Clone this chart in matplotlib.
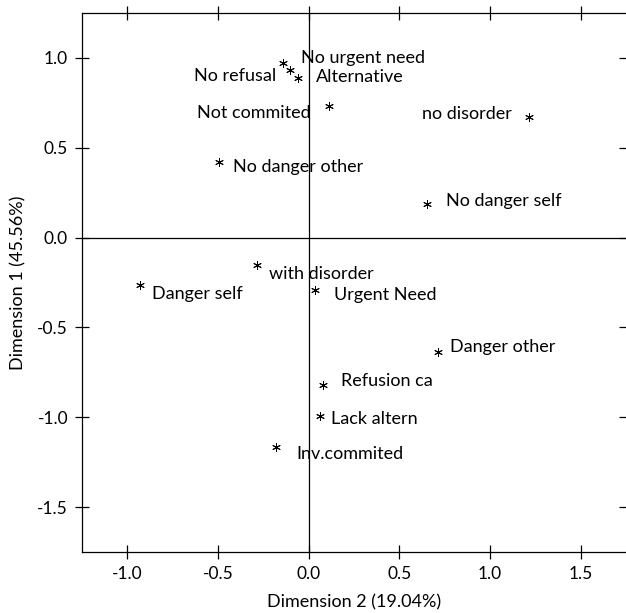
import matplotlib
matplotlib.use("Agg")
import matplotlib.pyplot as plt

plt.rcParams["font.family"] = ["Lato", "DejaVu Sans"]

labels = [
    "No urgent need", "No refusal", "Alternative", "Not commited",
    "no disorder", "No danger other", "No danger self", "with disorder",
    "Danger self", "Urgent Need", "Danger other", "Refusion ca",
    "Lack altern", "Inv.commited",
]
dim2 = [-0.143, -0.103, -0.061, 0.110, 1.213, -0.492, 0.653, -0.285,
        -0.929, 0.035, 0.715, 0.081, 0.063, -0.180]
dim1 = [0.972, 0.933, 0.886, 0.734, 0.669, 0.421, 0.186, -0.154,
        -0.266, -0.294, -0.636, -0.818, -0.994, -1.167]

# label placement (pixel offsets from the point, horizontal alignment)
offsets = {
    "No urgent need": (18, 5, "left"),
    "No refusal": (-14, -6, "right"),
    "Alternative": (18, 1, "left"),
    "Not commited": (-18, -7, "right"),
    "no disorder": (-17, 3, "right"),
    "No danger other": (14, -5, "left"),
    "No danger self": (19, 3, "left"),
    "with disorder": (12, -9, "left"),
    "Danger self": (12, -9, "left"),
    "Urgent Need": (19, -5, "left"),
    "Danger other": (12, 5, "left"),
    "Refusion ca": (18, 4, "left"),
    "Lack altern": (11, -3, "left"),
    "Inv.commited": (20, -7, "left"),
}

fig = plt.figure(figsize=(6.26, 6.13), dpi=100)
ax = fig.add_axes([82 / 626, 1 - 552 / 613, (626 - 82) / 626, (552 - 13) / 613])

ax.axhline(0, color="black", lw=0.9)
ax.axvline(0, color="black", lw=0.9)
ax.scatter(dim2, dim1, marker=(6, 2, 0), s=32, color="black", linewidths=0.7)

for x, y, lab in zip(dim2, dim1, labels):
    dx, dy, ha = offsets[lab]
    ax.annotate(lab, (x, y), xytext=(dx, dy), textcoords="offset pixels",
                ha=ha, va="center", fontsize=13)

ax.set_xlim(-1.25, 1.75)
ax.set_ylim(-1.75, 1.25)
ax.set_xticks([-1.0, -0.5, 0.0, 0.5, 1.0, 1.5])
ax.set_yticks([-1.5, -1.0, -0.5, 0.0, 0.5, 1.0])
ax.xaxis.set_major_formatter(matplotlib.ticker.FormatStrFormatter("%.1f"))
ax.yaxis.set_major_formatter(matplotlib.ticker.FormatStrFormatter("%.1f"))
ax.tick_params(direction="inout", length=10, width=0.9, labelsize=12.5,
               top=True, right=True, pad=5)
ax.spines["right"].set_visible(False)
for s in ["left", "top", "bottom"]:
    ax.spines[s].set_linewidth(0.9)

ax.set_xlabel("Dimension 2 (19.04%)", fontsize=13, labelpad=9)
ax.set_ylabel("Dimension 1 (45.56%)", fontsize=13, labelpad=8)

fig.savefig("out.png", dpi=100)
